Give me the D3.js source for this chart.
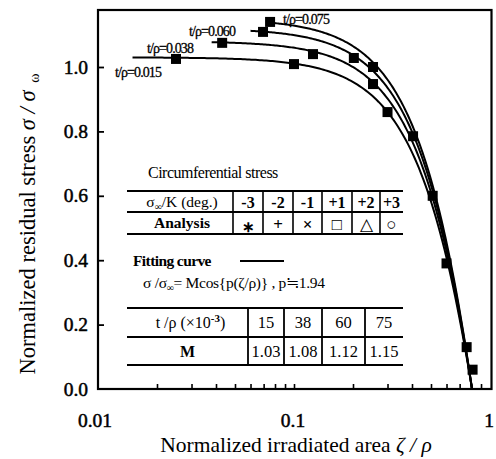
<!DOCTYPE html>
<html>
<head>
<meta charset="utf-8">
<script src="https://cdn.jsdelivr.net/npm/d3@7"></script>
<style>
  body { margin: 0; background: #fff; }
  svg { display: block; }
  text { font-family: "Liberation Serif", "Times New Roman", serif; fill: #000; }
</style>
</head>
<body>
<svg id="chart" width="496" height="459"></svg>
<script>
// Fitted curve parameters: sigma/sigma_inf = M cos(p * zeta/rho), one curve per thickness ratio
const thicknessRatios = [0.015, 0.038, 0.060, 0.075];
const amplitudeM = [1.03, 1.08, 1.12, 1.15];
const fitP = 1.94;
const curveLabels = ["t/ρ=0.015", "t/ρ=0.038", "t/ρ=0.060", "t/ρ=0.075"];

// Measured residual stresses (filled squares)
const pointZeta  = [0.025, 0.100, 0.300, 0.043, 0.125, 0.253, 0.0695, 0.202, 0.0755, 0.253, 0.405, 0.510, 0.600, 0.760, 0.815];
const pointSigma = [1.025, 1.009, 0.860, 1.075, 1.040, 0.947, 1.109, 1.028, 1.140, 1.000, 0.785, 0.600, 0.390, 0.130, 0.060];

// Axis ticks
const xTickValues = [0.01, 0.1, 1];
const xTickLabels = ["0.01", "0.1", "1"];
const yTickValues = [0.0, 0.2, 0.4, 0.6, 0.8, 1.0];
const yTickLabels = ["0.0", "0.2", "0.4", "0.6", "0.8", "1.0"];

// Legend tables
const angleLabels = ["-3", "-2", "-1", "+1", "+2", "+3"];
const analysisSymbols = ["∗", "+", "×", "□", "△", "○"];
const ratioLabels = ["15", "38", "60", "75"];
const mLabels = ["1.03", "1.08", "1.12", "1.15"];

(function draw() {
  const svg = d3.select("#chart");
  svg.append("rect").attr("width", 496).attr("height", 459).attr("fill", "#fff");

  const frameL = 98, frameR = 491.5, frameT = 10, frameB = 389;
  const x = d3.scaleLog().domain([0.01, 1]).range([98, 490]);
  const y = d3.scaleLinear().domain([0, 1]).range([389, 67]);

  // Inward minor ticks along the bottom
  const minorX = [];
  [0.01, 0.1].forEach(d => { for (let k = 2; k <= 9; k++) minorX.push(d * k); });
  minorX.push(0.1);
  const xAxis = svg.append("g").attr("transform", `translate(0,${frameB})`)
    .call(d3.axisBottom(x).tickValues(minorX).tickSize(-5).tickFormat(""));
  xAxis.select(".domain").remove();
  xAxis.selectAll("line").attr("stroke", "#000").attr("stroke-width", 1.6);

  const yAxis = svg.append("g").attr("transform", `translate(${frameL},0)`)
    .call(d3.axisLeft(y).tickValues(yTickValues.slice(1)).tickSize(-6).tickFormat(""));
  yAxis.select(".domain").remove();
  yAxis.selectAll("line").attr("stroke", "#000").attr("stroke-width", 1.8);

  // Frame
  svg.append("rect").attr("x", frameL).attr("y", frameT)
    .attr("width", frameR - frameL).attr("height", frameB - frameT)
    .attr("fill", "none").attr("stroke", "#000").attr("stroke-width", 2.2);

  // Tick labels
  svg.append("g").selectAll("text").data(xTickValues).join("text")
    .attr("x", (d, i) => i === 0 ? x(d) - 3 : x(d) - 1)
    .attr("y", 427)
    .attr("text-anchor", "middle")
    .attr("font-size", 19.5).attr("stroke", "#000").attr("stroke-width", 0.5)
    .text((d, i) => xTickLabels[i]);

  svg.append("g").selectAll("text").data(yTickValues).join("text")
    .attr("x", 88).attr("y", d => y(d) + 6.5)
    .attr("text-anchor", "end")
    .attr("font-size", 19.5).attr("stroke", "#000").attr("stroke-width", 0.5)
    .text((d, i) => yTickLabels[i]);

  // Axis titles
  const xTitle = svg.append("text").attr("x", 296).attr("y", 452)
    .attr("text-anchor", "middle").attr("font-size", 21.5);
  xTitle.append("tspan").text("Normalized irradiated area  ");
  xTitle.append("tspan").attr("font-style", "italic").text("ζ / ρ");

  const yTitle = svg.append("text")
    .attr("transform", "translate(35,224) rotate(-90)")
    .attr("text-anchor", "middle").attr("font-size", 22.5);
  yTitle.append("tspan").text("Normalized residual stress  ");
  yTitle.append("tspan").attr("font-style", "italic").text("σ / σ ");
  yTitle.append("tspan").attr("font-size", 14).attr("dy", 4).attr("dx", 2).text("ω");

  // Fitted curves from t/rho up to the zero of the cosine
  const zeroZeta = Math.PI / (2 * fitP);
  const line = d3.line().x(d => x(d[0])).y(d => y(d[1]));
  thicknessRatios.forEach((t, i) => {
    const pts = [];
    const n = 160;
    const a = Math.log10(t), b = Math.log10(zeroZeta);
    for (let k = 0; k <= n; k++) {
      const z = Math.pow(10, a + (b - a) * k / n);
      pts.push([z, Math.max(0, amplitudeM[i] * Math.cos(fitP * z))]);
    }
    svg.append("path").attr("d", line(pts))
      .attr("fill", "none").attr("stroke", "#000").attr("stroke-width", 2);
  });

  // Measured points
  svg.append("g").selectAll("rect").data(pointZeta).join("rect")
    .attr("x", d => x(d) - 5)
    .attr("y", (d, i) => y(pointSigma[i]) - 5)
    .attr("width", 10).attr("height", 10)
    .attr("fill", "#000");

  // Curve labels
  const labelPos = [[115, 77], [147, 53], [189, 36], [283, 24]];
  svg.append("g").selectAll("text").data(curveLabels).join("text")
    .attr("x", (d, i) => labelPos[i][0]).attr("y", (d, i) => labelPos[i][1])
    .attr("font-size", 14).attr("letter-spacing", -0.9)
    .attr("stroke", "#000").attr("stroke-width", 0.3)
    .text(d => d);

  // Legend: analysis symbols table
  svg.append("text").attr("x", 148).attr("y", 178).attr("font-size", 16)
    .attr("letter-spacing", -0.5).text("Circumferential stress");

  const t1Left = 127, t1Right = 403;
  const t1Rows = [191, 212, 234];
  const t1Cols = [233, 263, 293, 322, 352, 380, 403];
  t1Rows.forEach(r => svg.append("line").attr("x1", t1Left).attr("x2", t1Right)
    .attr("y1", r).attr("y2", r).attr("stroke", "#000").attr("stroke-width", 2));
  t1Cols.slice(0, -1).forEach(c => svg.append("line").attr("x1", c).attr("x2", c)
    .attr("y1", t1Rows[0]).attr("y2", t1Rows[2]).attr("stroke", "#000").attr("stroke-width", 1.6));

  const head = svg.append("text").attr("x", (t1Left + t1Cols[0]) / 2 + 2).attr("y", 207)
    .attr("text-anchor", "middle").attr("font-size", 15.5);
  head.append("tspan").text("σ");
  head.append("tspan").attr("font-size", 10).attr("dy", 3).text("∞");
  head.append("tspan").attr("dy", -3).text("/K (deg.)");
  svg.append("text").attr("x", (t1Left + t1Cols[0]) / 2 + 2).attr("y", 228)
    .attr("text-anchor", "middle").attr("font-size", 15.5).attr("font-weight", "bold").text("Analysis");
  angleLabels.forEach((lab, i) => {
    const cx = (t1Cols[i] + t1Cols[i + 1]) / 2;
    svg.append("text").attr("x", cx).attr("y", 207.5).attr("text-anchor", "middle")
      .attr("font-size", 16).attr("font-weight", "bold").text(lab);
    svg.append("text").attr("x", cx).attr("y", 229.5).attr("text-anchor", "middle")
      .attr("font-family", "DejaVu Sans").attr("font-size", i === 0 ? 15 : 17)
      .attr("font-weight", i < 3 ? "bold" : "normal")
      .attr("dy", i === 0 ? 2 : 0)
      .text(analysisSymbols[i]);
  });

  // Legend: fitting curve
  svg.append("text").attr("x", 133).attr("y", 266).attr("font-size", 15.5)
    .attr("font-weight", "bold").attr("letter-spacing", -0.6).text("Fitting   curve");
  svg.append("line").attr("x1", 240).attr("x2", 284).attr("y1", 261).attr("y2", 261)
    .attr("stroke", "#000").attr("stroke-width", 1.8);
  const formula = svg.append("text").attr("x", 143).attr("y", 288).attr("font-size", 15.5)
    .attr("letter-spacing", -0.3);
  formula.append("tspan").text("σ /σ");
  formula.append("tspan").attr("font-size", 10).attr("dy", 3).text("∞");
  formula.append("tspan").attr("dy", -3).text("= Mcos{p(ζ/ρ)} , p≒1.94");

  // Legend: M table
  const t2Left = 127, t2Right = 403;
  const t2Rows = [308, 337, 365];
  const t2Cols = [248, 284, 322, 365, 403];
  t2Rows.forEach(r => svg.append("line").attr("x1", t2Left).attr("x2", t2Right)
    .attr("y1", r).attr("y2", r).attr("stroke", "#000").attr("stroke-width", 2.2));
  t2Cols.slice(0, -1).forEach(c => svg.append("line").attr("x1", c).attr("x2", c)
    .attr("y1", t2Rows[0]).attr("y2", t2Rows[2]).attr("stroke", "#000").attr("stroke-width", 1.8));
  const rh = svg.append("text").attr("x", (t2Left + t2Cols[0]) / 2 + 3).attr("y", 328)
    .attr("text-anchor", "middle").attr("font-size", 16).attr("font-family", "Liberation Sans");
  rh.append("tspan").text("t /ρ (×10");
  rh.append("tspan").attr("font-size", 11).attr("dy", -6).attr("font-weight", "bold").text("-3");
  rh.append("tspan").attr("dy", 6).text(")");
  svg.append("text").attr("x", (t2Left + t2Cols[0]) / 2).attr("y", 357)
    .attr("text-anchor", "middle").attr("font-size", 16).attr("font-weight", "bold")
    .attr("font-family", "Liberation Sans").text("M");
  ratioLabels.forEach((lab, i) => {
    const cx = (t2Cols[i] + t2Cols[i + 1]) / 2;
    svg.append("text").attr("x", cx).attr("y", 328).attr("text-anchor", "middle")
      .attr("font-size", 16.5).attr("font-family", "Liberation Sans").text(lab);
    svg.append("text").attr("x", cx).attr("y", 357).attr("text-anchor", "middle")
      .attr("font-size", 16.5).attr("font-family", "Liberation Sans").text(mLabels[i]);
  });
})();
</script>
</body>
</html>
